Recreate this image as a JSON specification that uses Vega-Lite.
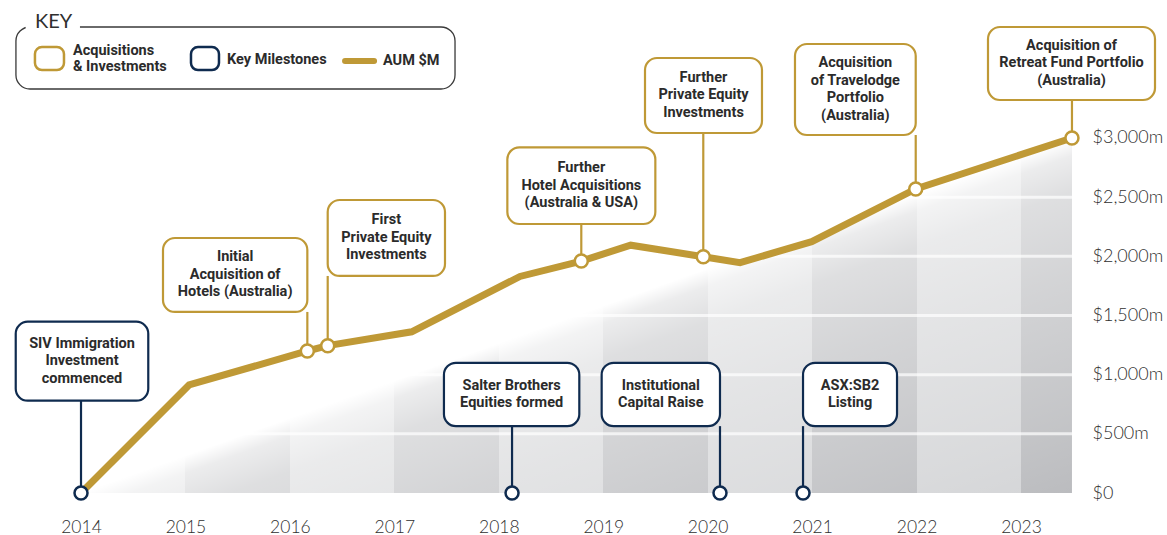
{
  "$schema": "https://vega.github.io/schema/vega-lite/v6.json",
  "width": 1072,
  "height": 493,
  "autosize": "none",
  "padding": {"left": 0, "top": 0, "right": 95, "bottom": 42},
  "background": "white",
  "config": {"view": {"stroke": null}},
  "datasets": {
    "aum": [
      {"year": 2014.0, "aum": 0},
      {"year": 2015.035, "aum": 913},
      {"year": 2016.167, "aum": 1200},
      {"year": 2016.362, "aum": 1245},
      {"year": 2017.166, "aum": 1362},
      {"year": 2018.203, "aum": 1830},
      {"year": 2018.79, "aum": 1960},
      {"year": 2019.263, "aum": 2094},
      {"year": 2019.958, "aum": 1997},
      {"year": 2020.31, "aum": 1946},
      {"year": 2020.996, "aum": 2124},
      {"year": 2021.992, "aum": 2569},
      {"year": 2023.488, "aum": 3000}
    ],
    "grid": [{"v": 500}, {"v": 1000}, {"v": 1500}, {"v": 2000}, {"v": 2500}],
    "events": [
      {"type": "Acquisitions & Investments", "label": "Initial\nAcquisition of\nHotels (Australia)", "year": 2016.167, "aum": 1200, "x0": 2014.785, "x1": 2016.167, "y0": 1530, "y1": 2155},
      {"type": "Acquisitions & Investments", "label": "First\nPrivate Equity\nInvestments", "year": 2016.362, "aum": 1245, "x0": 2016.362, "x1": 2017.485, "y0": 1834, "y1": 2476},
      {"type": "Acquisitions & Investments", "label": "Further\nHotel Acquisitions\n(Australia & USA)", "year": 2018.79, "aum": 1960, "x0": 2018.082, "x1": 2019.499, "y0": 2273, "y1": 2921},
      {"type": "Acquisitions & Investments", "label": "Further\nPrivate Equity\nInvestments", "year": 2019.958, "aum": 1997, "x0": 2019.4, "x1": 2020.52, "y0": 3042, "y1": 3676},
      {"type": "Acquisitions & Investments", "label": "Acquisition\nof Travelodge\nPortfolio\n(Australia)", "year": 2021.992, "aum": 2569, "x0": 2020.836, "x1": 2021.992, "y0": 3025, "y1": 3794},
      {"type": "Acquisitions & Investments", "label": "Acquisition of\nRetreat Fund Portfolio\n(Australia)", "year": 2023.488, "aum": 3000, "x0": 2022.684, "x1": 2024.283, "y0": 3321, "y1": 3938},
      {"type": "Key Milestones", "label": "SIV Immigration\nInvestment\ncommenced", "year": 2014.0, "aum": 0, "x0": 2013.375, "x1": 2014.644, "y0": 780, "y1": 1448},
      {"type": "Key Milestones", "label": "Salter Brothers\nEquities formed", "year": 2018.127, "aum": 0, "x0": 2017.475, "x1": 2018.771, "y0": 565, "y1": 1100},
      {"type": "Key Milestones", "label": "Institutional\nCapital Raise", "year": 2020.118, "aum": 0, "x0": 2018.985, "x1": 2020.118, "y0": 565, "y1": 1100},
      {"type": "Key Milestones", "label": "ASX:SB2\nListing", "year": 2020.913, "aum": 0, "x0": 2020.913, "x1": 2021.813, "y0": 565, "y1": 1100}
    ],
    "one": [{"k": 1}]
  },
  "layer": [
    {
      "data": {"name": "aum"},
      "mark": {
        "type": "area",
        "fillOpacity": 1,
        "fill": {
          "gradient": "linear", "x1": 0, "y1": 0, "x2": 1, "y2": 0,
          "stops": [
            {"offset": 0, "color": "#d4d5d7"}, {"offset": 0.10539, "color": "#d4d5d7"},
            {"offset": 0.10539, "color": "#bbbcbf"}, {"offset": 0.21078, "color": "#bbbcbf"},
            {"offset": 0.21078, "color": "#d4d5d7"}, {"offset": 0.31617, "color": "#d4d5d7"},
            {"offset": 0.31617, "color": "#bbbcbf"}, {"offset": 0.42156, "color": "#bbbcbf"},
            {"offset": 0.42156, "color": "#d4d5d7"}, {"offset": 0.52695, "color": "#d4d5d7"},
            {"offset": 0.52695, "color": "#bbbcbf"}, {"offset": 0.63234, "color": "#bbbcbf"},
            {"offset": 0.63234, "color": "#d4d5d7"}, {"offset": 0.73773, "color": "#d4d5d7"},
            {"offset": 0.73773, "color": "#bbbcbf"}, {"offset": 0.84312, "color": "#bbbcbf"},
            {"offset": 0.84312, "color": "#d4d5d7"}, {"offset": 0.94851, "color": "#d4d5d7"},
            {"offset": 0.94851, "color": "#bbbcbf"}, {"offset": 1, "color": "#bbbcbf"}
          ]
        }
      },
      "encoding": {
        "x": {
          "field": "year", "type": "quantitative",
          "scale": {"domain": [2013.2244, 2023.4883], "nice": false, "zero": false},
          "axis": {
            "values": [2014, 2015, 2016, 2017, 2018, 2019, 2020, 2021, 2022, 2023],
            "format": "d", "title": null, "domain": false, "ticks": false, "tickSize": 0,
            "grid": false, "labelPadding": 25, "labelFont": "Lato", "labelFontSize": 17.5,
            "labelFontWeight": 300, "labelColor": "#2f2f2f", "labelFlush": false, "labelOverlap": false
          }
        },
        "y": {
          "field": "aum", "type": "quantitative",
          "scale": {"domain": [0, 4166], "nice": false, "zero": false},
          "axis": {
            "orient": "right",
            "values": [0, 500, 1000, 1500, 2000, 2500, 3000],
            "labelExpr": "datum.value == 0 ? '$0' : '$' + format(datum.value, ',') + 'm'",
            "title": null, "domain": false, "ticks": false, "tickSize": 0, "grid": false,
            "labelPadding": 20, "labelFont": "Lato", "labelFontSize": 18, "labelFontWeight": 300,
            "labelColor": "#2f2f2f", "labelFlush": false, "labelOverlap": false
          }
        }
      }
    },
    {
      "data": {"name": "aum"},
      "mark": {
        "type": "area",
        "fillOpacity": 1,
        "fill": {
          "gradient": "linear", "x1": 0.5, "y1": 0.5, "x2": 1, "y2": 1,
          "stops": [
            {"offset": 0, "color": "rgba(255,255,255,1)"},
            {"offset": 0.05, "color": "rgba(255,255,255,0.72)"},
            {"offset": 0.15, "color": "rgba(255,255,255,0.52)"},
            {"offset": 0.37, "color": "rgba(255,255,255,0.37)"},
            {"offset": 0.58, "color": "rgba(255,255,255,0.25)"},
            {"offset": 0.8, "color": "rgba(255,255,255,0.13)"},
            {"offset": 1, "color": "rgba(255,255,255,0)"}
          ]
        }
      },
      "encoding": {
        "x": {"field": "year", "type": "quantitative"},
        "y": {"field": "aum", "type": "quantitative"}
      }
    },
    {
      "data": {"name": "grid"},
      "mark": {"type": "rule", "color": "white", "strokeWidth": 3, "opacity": 0.7},
      "encoding": {
        "y": {"field": "v", "type": "quantitative"}
      }
    },
    {
      "data": {"name": "aum"},
      "mark": {"type": "line", "color": "#bf9936", "strokeWidth": 7, "strokeJoin": "miter"},
      "encoding": {
        "x": {"field": "year", "type": "quantitative"},
        "y": {"field": "aum", "type": "quantitative"}
      }
    },
    {
      "data": {"name": "events"},
      "mark": {"type": "rule", "strokeWidth": 2.2},
      "encoding": {
        "x": {"field": "year", "type": "quantitative"},
        "y": {"field": "aum", "type": "quantitative"},
        "y2": {"field": "y0"},
        "stroke": {
          "field": "type", "type": "nominal", "legend": null,
          "scale": {"domain": ["Acquisitions & Investments", "Key Milestones"], "range": ["#bf9936", "#0f2b4f"]}
        }
      }
    },
    {
      "data": {"name": "events"},
      "mark": {"type": "rect", "fill": "white", "strokeWidth": 2.2, "cornerRadius": 12},
      "encoding": {
        "x": {"field": "x0", "type": "quantitative"},
        "x2": {"field": "x1"},
        "y": {"field": "y0", "type": "quantitative"},
        "y2": {"field": "y1"},
        "stroke": {"field": "type", "type": "nominal", "legend": null}
      }
    },
    {
      "data": {"name": "events"},
      "transform": [
        {"filter": "split(datum.label, '\\n').length == 2"},
        {"calculate": "(datum.x0 + datum.x1) / 2", "as": "xm"},
        {"calculate": "(datum.y0 + datum.y1) / 2", "as": "ym"}
      ],
      "mark": {
        "type": "text", "lineBreak": "\n", "font": "Roboto", "fontWeight": "bold",
        "fontSize": 14.5, "lineHeight": 17.5, "color": "#2b2b2b",
        "align": "center", "baseline": "middle", "dy": -8.75
      },
      "encoding": {
        "x": {"field": "xm", "type": "quantitative"},
        "y": {"field": "ym", "type": "quantitative"},
        "text": {"field": "label", "type": "nominal"}
      }
    },
    {
      "data": {"name": "events"},
      "transform": [
        {"filter": "split(datum.label, '\\n').length == 3"},
        {"calculate": "(datum.x0 + datum.x1) / 2", "as": "xm"},
        {"calculate": "(datum.y0 + datum.y1) / 2", "as": "ym"}
      ],
      "mark": {
        "type": "text", "lineBreak": "\n", "font": "Roboto", "fontWeight": "bold",
        "fontSize": 14.5, "lineHeight": 17.5, "color": "#2b2b2b",
        "align": "center", "baseline": "middle", "dy": -17.5
      },
      "encoding": {
        "x": {"field": "xm", "type": "quantitative"},
        "y": {"field": "ym", "type": "quantitative"},
        "text": {"field": "label", "type": "nominal"}
      }
    },
    {
      "data": {"name": "events"},
      "transform": [
        {"filter": "split(datum.label, '\\n').length == 4"},
        {"calculate": "(datum.x0 + datum.x1) / 2", "as": "xm"},
        {"calculate": "(datum.y0 + datum.y1) / 2", "as": "ym"}
      ],
      "mark": {
        "type": "text", "lineBreak": "\n", "font": "Roboto", "fontWeight": "bold",
        "fontSize": 14.5, "lineHeight": 17.5, "color": "#2b2b2b",
        "align": "center", "baseline": "middle", "dy": -26.25
      },
      "encoding": {
        "x": {"field": "xm", "type": "quantitative"},
        "y": {"field": "ym", "type": "quantitative"},
        "text": {"field": "label", "type": "nominal"}
      }
    },
    {
      "data": {"name": "events"},
      "mark": {"type": "point", "shape": "circle", "filled": true, "fill": "white", "fillOpacity": 1, "opacity": 1, "size": 169, "strokeWidth": 2.5},
      "encoding": {
        "x": {"field": "year", "type": "quantitative"},
        "y": {"field": "aum", "type": "quantitative"},
        "stroke": {"field": "type", "type": "nominal", "legend": null}
      }
    },
    {
      "data": {"name": "one"},
      "mark": {"type": "rect", "fill": "white", "stroke": "#3a3a3a", "strokeWidth": 1.3, "cornerRadius": 14},
      "encoding": {
        "x": {"datum": 2013.377, "type": "quantitative"},
        "x2": {"datum": 2017.581},
        "y": {"datum": 3414, "type": "quantitative"},
        "y2": {"datum": 3938}
      }
    },
    {
      "data": {"name": "one"},
      "mark": {"type": "rect", "fill": "white", "stroke": null},
      "encoding": {
        "x": {"datum": 2013.47, "type": "quantitative"},
        "x2": {"datum": 2013.99},
        "y": {"datum": 3895, "type": "quantitative"},
        "y2": {"datum": 3990}
      }
    },
    {
      "data": {"name": "one"},
      "mark": {"type": "text", "text": "KEY", "font": "Lato", "fontWeight": "normal", "fontSize": 20, "color": "#2f2f2f", "align": "left", "baseline": "alphabetic"},
      "encoding": {
        "x": {"datum": 2013.5595, "type": "quantitative"},
        "y": {"datum": 3933, "type": "quantitative"}
      }
    },
    {
      "data": {"name": "one"},
      "mark": {"type": "rect", "fill": "white", "stroke": "#bf9936", "strokeWidth": 2.5, "cornerRadius": 7},
      "encoding": {
        "x": {"datum": 2013.559, "type": "quantitative"},
        "x2": {"datum": 2013.837},
        "y": {"datum": 3574, "type": "quantitative"},
        "y2": {"datum": 3769}
      }
    },
    {
      "data": {"name": "one"},
      "mark": {"type": "rect", "fill": "white", "stroke": "#0f2b4f", "strokeWidth": 2.5, "cornerRadius": 7},
      "encoding": {
        "x": {"datum": 2015.053, "type": "quantitative"},
        "x2": {"datum": 2015.321},
        "y": {"datum": 3574, "type": "quantitative"},
        "y2": {"datum": 3769}
      }
    },
    {
      "data": {"name": "one"},
      "mark": {"type": "rule", "color": "#bf9936", "strokeWidth": 6, "strokeCap": "round"},
      "encoding": {
        "x": {"datum": 2016.528, "type": "quantitative"},
        "x2": {"datum": 2016.806},
        "y": {"datum": 3650, "type": "quantitative"}
      }
    },
    {
      "data": {"name": "one"},
      "mark": {"type": "text", "text": "Acquisitions\n& Investments", "lineBreak": "\n", "lineHeight": 15.5, "font": "Roboto", "fontWeight": "bold", "fontSize": 14.5, "color": "#2b2b2b", "align": "left", "baseline": "middle", "dy": -6.5},
      "encoding": {
        "x": {"datum": 2013.923, "type": "quantitative"},
        "y": {"datum": 3677, "type": "quantitative"}
      }
    },
    {
      "data": {"name": "one"},
      "mark": {"type": "text", "text": "Key Milestones", "font": "Roboto", "fontWeight": "bold", "fontSize": 14.5, "color": "#2b2b2b", "align": "left", "baseline": "middle"},
      "encoding": {
        "x": {"datum": 2015.398, "type": "quantitative"},
        "y": {"datum": 3659, "type": "quantitative"}
      }
    },
    {
      "data": {"name": "one"},
      "mark": {"type": "text", "text": "AUM $M", "font": "Roboto", "fontWeight": "bold", "fontSize": 14.5, "color": "#2b2b2b", "align": "left", "baseline": "middle"},
      "encoding": {
        "x": {"datum": 2016.891, "type": "quantitative"},
        "y": {"datum": 3650, "type": "quantitative"}
      }
    }
  ]
}
